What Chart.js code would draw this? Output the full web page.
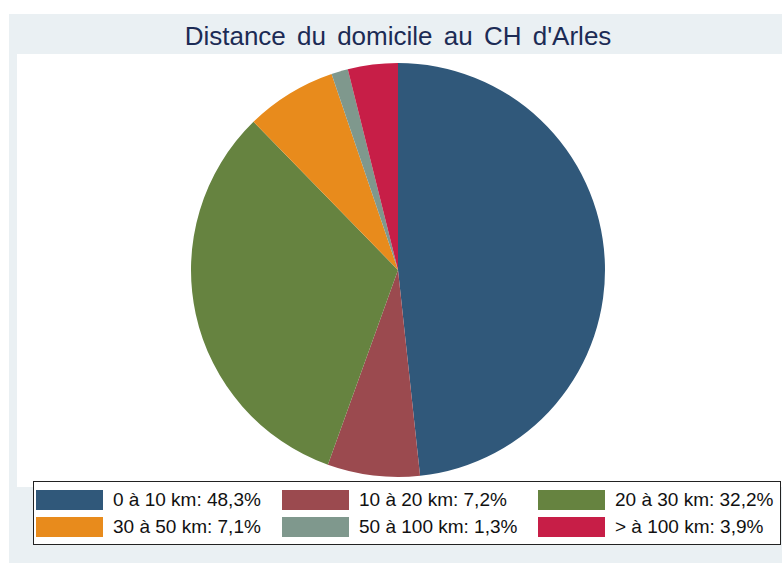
<!DOCTYPE html>
<html>
<head>
<meta charset="utf-8">
<script src="https://cdn.jsdelivr.net/npm/chart.js@4/dist/chart.umd.min.js"></script>
<style>
  body { margin: 0; background: #ffffff; width: 782px; height: 563px; overflow: hidden; position: relative; font-family: "Liberation Sans", Arial, sans-serif; }
  #outer { position: absolute; left: 9px; top: 14px; width: 773px; height: 549px; background: #eaf0f3; }
  #title { position: absolute; left: 0px; top: 19px; width: 796px; text-align: center; font-size: 26px; word-spacing: 4px; color: #1c2b55; line-height: 34px; }
  #plot { position: absolute; left: 17px; top: 54px; width: 765px; height: 433px; background: #ffffff; }
  #pieWrap { position: absolute; left: 188px; top: 60px; width: 420px; height: 420px; }
  #legend { position: absolute; left: 33px; top: 481px; width: 746px; height: 62px; background: #ffffff; border: 1px solid #222; }
  .item { position: absolute; height: 20px; font-size: 19px; line-height: 20px; color: #111; white-space: nowrap; }
  .swatch { position: absolute; left: 0; top: 0; width: 67px; height: 20px; }
  .label { position: absolute; left: 77px; top: 0; }
</style>
</head>
<body>
<div id="outer"></div>
<div id="title">Distance du domicile au CH d'Arles</div>
<div id="plot"></div>
<div id="pieWrap"><canvas id="pieChart" width="420" height="420"></canvas></div>
<div id="legend"></div>
<script>
  // --- DATA ---
  const categories = ['0 à 10 km', '10 à 20 km', '20 à 30 km', '30 à 50 km', '50 à 100 km', '> à 100 km'];
  const shares = [48.3, 7.2, 32.2, 7.1, 1.3, 3.9];
  const shareLabels = ['48,3%', '7,2%', '32,2%', '7,1%', '1,3%', '3,9%'];
  const sliceColors = ['#30587a', '#9b4a4f', '#668340', '#e88b1c', '#7f988d', '#c71e47'];

  // --- LEGEND (3 columns, 2 rows) ---
  const legendCols = [2, 248, 504];
  const legendRows = [8, 35];
  const legendEl = document.getElementById('legend');
  categories.forEach((cat, i) => {
    const item = document.createElement('div');
    item.className = 'item';
    item.style.left = legendCols[i % 3] + 'px';
    item.style.top = legendRows[Math.floor(i / 3)] + 'px';
    item.innerHTML = `<div class="swatch" style="background:${sliceColors[i]}"></div>` +
      `<div class="label">${cat.replace('>', '&gt;')}: ${shareLabels[i]}</div>`;
    legendEl.appendChild(item);
  });

  // --- PIE ---
  const ctx = document.getElementById('pieChart').getContext('2d');
  new Chart(ctx, {
    type: 'pie',
    data: {
      labels: categories,
      datasets: [{ data: shares, backgroundColor: sliceColors, borderWidth: 0 }]
    },
    options: {
      responsive: false,
      animation: false,
      layout: { padding: 3 },
      plugins: { legend: { display: false }, tooltip: { enabled: false } }
    }
  });
</script>
</body>
</html>
